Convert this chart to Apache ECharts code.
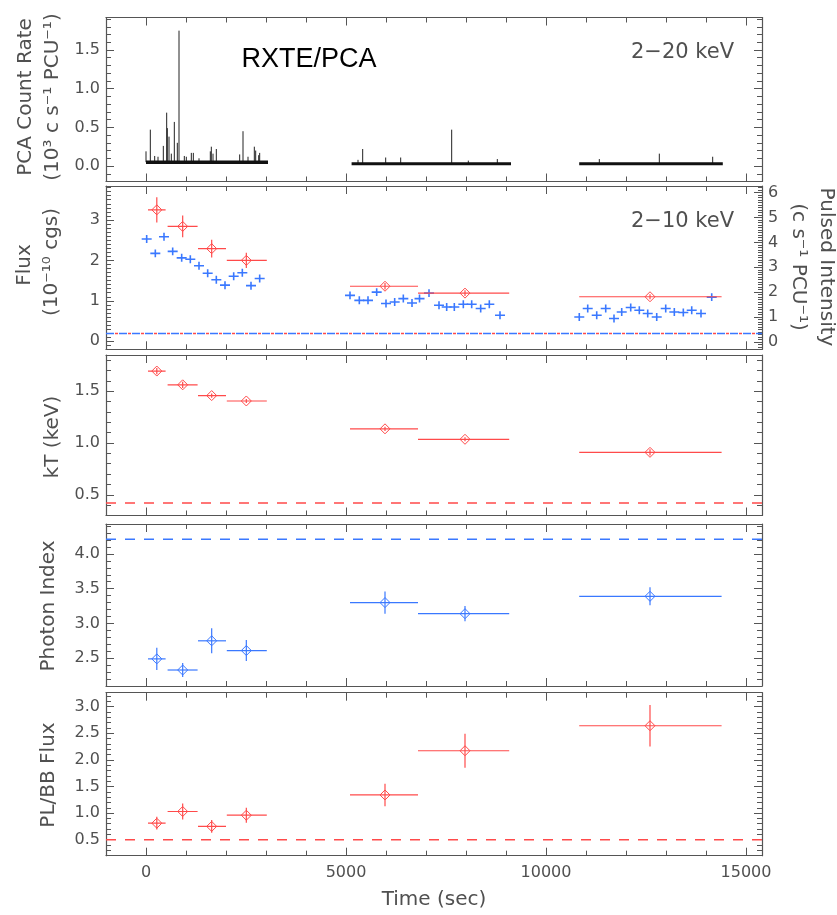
<!DOCTYPE html>
<html>
<head>
<meta charset="utf-8">
<script src="https://cdn.jsdelivr.net/npm/echarts@6/dist/echarts.min.js"></script>
<style>
html, body { margin: 0; padding: 0; background: #fff; }
#main { width: 837px; height: 915px; }
</style>
</head>
<body>
<div id="main"></div>
<script>
// ---- values ----
var timeTicks = [0, 5000, 10000, 15000];

// panel 1: PCA light curve, 2-20 keV (baseline segments [start, end, level] and spikes [time, peak])
var lcSegments = [[0, 3050, 0.05], [5140, 9125, 0.03], [10830, 14420, 0.03]];
var lcSpikes = [
  [0, 0.19], [108, 0.47], [217, 0.13], [300, 0.12], [433, 0.26], [517, 0.69], [533, 0.49],
  [575, 0.38], [633, 0.16], [708, 0.57], [783, 0.30], [825, 1.75], [958, 0.13], [1008, 0.12],
  [1133, 0.17], [1183, 0.17], [1325, 0.10], [1608, 0.19], [1633, 0.25], [1675, 0.16], [1758, 0.22],
  [2342, 0.15], [2425, 0.45], [2550, 0.12], [2708, 0.25], [2742, 0.20], [2817, 0.14], [2842, 0.17],
  [5300, 0.08], [5417, 0.22], [5992, 0.11], [6367, 0.11], [7642, 0.47], [8058, 0.07], [8783, 0.09],
  [11333, 0.09], [12833, 0.16], [14167, 0.12]
];

// panel 2: pulsed intensity (right axis)
var pulsedTime = [
  17, 233, 450, 667, 892, 1108, 1325, 1542, 1758, 1975, 2192, 2408, 2625, 2842,
  5100, 5333, 5550, 5767, 6000, 6217, 6433, 6650, 6838, 7075, 7325, 7517, 7708, 7933, 8142, 8367, 8583, 8850,
  10832, 11043, 11268, 11493, 11700, 11893, 12118, 12333, 12543, 12768, 12993, 13208, 13433, 13643, 13875, 14143
];
var pulsedRate = [
  4.14, 3.56, 4.23, 3.64, 3.38, 3.32, 3.06, 2.76, 2.50, 2.28, 2.64, 2.78, 2.26, 2.55,
  1.87, 1.67, 1.67, 2.00, 1.54, 1.60, 1.74, 1.56, 1.74, 1.96, 1.47, 1.40, 1.40, 1.51, 1.51, 1.34, 1.51, 1.07,
  1.00, 1.34, 1.07, 1.34, 0.94, 1.20, 1.38, 1.27, 1.14, 1.00, 1.34, 1.20, 1.18, 1.27, 1.14, 1.80
];
var pulsedTimeErr = 125;
var pulsedRateErr = 0.16;

// spectral bins shared by panels 2-5
var binTime  = [270, 917, 1642, 2508, 5975, 7975, 12600];
var binStart = [50, 540, 1300, 2020, 5100, 6800, 10830];
var binEnd   = [490, 1290, 2000, 3020, 6800, 9080, 14390];

var flux    = [3.25, 2.84, 2.29, 2.00, 1.36, 1.19, 1.10];
var fluxErr = [0.31, 0.27, 0.22, 0.19, 0.08, 0.07, 0.06];
var kT      = [1.695, 1.562, 1.458, 1.406, 1.137, 1.036, 0.910];
var kTErr   = [0.03, 0.03, 0.02, 0.02, 0.02, 0.02, 0.03];
var photonIndex    = [2.49, 2.33, 2.75, 2.61, 3.30, 3.14, 3.39];
var photonIndexErr = [0.16, 0.10, 0.18, 0.15, 0.16, 0.11, 0.13];
var plbbRatio    = [0.81, 1.03, 0.75, 0.96, 1.34, 2.17, 2.64];
var plbbRatioErr = [0.12, 0.15, 0.12, 0.14, 0.21, 0.32, 0.39];

// reference levels
var bgFluxLevel = 0.19;
var kTLevel = 0.42;
var indexLevel = 4.21;
var ratioLevel = 0.5;

// tick labels
var countTicks  = [0, 0.5, 1.0, 1.5];
var fluxTicks   = [0, 1, 2, 3];
var pulsedTicks = [0, 1, 2, 3, 4, 5, 6];
var kTTicks     = [0.5, 1.0, 1.5];
var indexTicks  = [2.5, 3.0, 3.5, 4.0];
var ratioTicks  = [0.5, 1.0, 1.5, 2.0, 2.5, 3.0];

// ---- layout ----
var RED = '#ff4a4a', BLUE = '#3a78ff', AX = '#555', TXT = '#505050';
var FONT = 'DejaVu Sans';
var X_MIN = -1000, X_MAX = 15400;

// mins are multiples of the 0.1 minor step so interval ticks line up
var panels = [
  { top: 17.5, height: 164, min: -0.2, max: 1.92, ticks: countTicks, dec: 1 },
  { top: 186, height: 163.3, min: -0.2, max: 3.84, ticks: fluxTicks, dec: 0,
    right: { min: -0.3, max: 6.27, ticks: pulsedTicks, dec: 0 } },
  { top: 355, height: 160.5, min: 0.3, max: 1.85, ticks: kTTicks, dec: 1 },
  { top: 524, height: 162, min: 2.1, max: 4.43, ticks: indexTicks, dec: 1 },
  { top: 692.7, height: 163, min: 0.2, max: 3.26, ticks: ratioTicks, dec: 1 }
];

var line = { color: AX, width: 1.2 };
var tickStyle = { color: AX, width: 1 };
var grids = [], xAxes = [], yAxes = [];

// major axis: ticks at the tick-label values
function xMajor(g, pos, labels) {
  return {
    type: 'value', gridIndex: g, position: pos, min: X_MIN, max: X_MAX,
    axisLine: { show: true, onZero: false, lineStyle: line },
    axisTick: { show: true, inside: true, length: 8, customValues: timeTicks, lineStyle: tickStyle },
    axisLabel: { show: labels, customValues: timeTicks, margin: 9, fontSize: 16, color: TXT, fontFamily: FONT,
      formatter: function (v) { return String(Math.round(v)); } },
    splitLine: { show: false }
  };
}
// minor axis: plain interval ticks, no labels
function xMinor(g, pos) {
  return {
    type: 'value', gridIndex: g, position: pos, min: X_MIN, max: X_MAX, interval: 1000,
    axisLine: { show: false, onZero: false },
    axisTick: { show: true, inside: true, length: 5, lineStyle: tickStyle },
    axisLabel: { show: false },
    splitLine: { show: false }
  };
}
function yMajor(g, pos, p, labels) {
  return {
    type: 'value', gridIndex: g, position: pos, min: p.min, max: p.max,
    axisLine: { show: true, onZero: false, lineStyle: line },
    axisTick: { show: true, inside: true, length: 8, customValues: p.ticks, lineStyle: tickStyle },
    axisLabel: { show: labels, customValues: p.ticks, margin: 6, fontSize: 16, color: TXT, fontFamily: FONT,
      formatter: function (v) { return (+v).toFixed(p.dec); } },
    splitLine: { show: false }
  };
}
function yMinor(g, pos, p, len) {
  return {
    type: 'value', gridIndex: g, position: pos, min: p.min, max: p.max, interval: 0.1,
    axisLine: { show: false, onZero: false },
    axisTick: { show: true, inside: true, length: len, lineStyle: tickStyle },
    axisLabel: { show: false },
    splitLine: { show: false }
  };
}

panels.forEach(function (p, g) {
  grids.push({ left: 106, right: 75, top: p.top, height: p.height });
  xAxes.push(xMajor(g, 'bottom', g === 4));
  xAxes.push(xMinor(g, 'bottom'));
  xAxes.push(xMajor(g, 'top', false));
  xAxes.push(xMinor(g, 'top'));
  yAxes.push(yMajor(g, 'left', p, true));
  yAxes.push(yMinor(g, 'left', p, 5));
  var r = p.right || p;
  yAxes.push(yMajor(g, 'right', r, !!p.right));
  yAxes.push(yMinor(g, 'right', r, p.right ? 4 : 5));
});

function errorSeries(g, yIdx, rows, color, lw, diamond) {
  return {
    type: 'custom', xAxisIndex: 4 * g, yAxisIndex: yIdx, clip: true, z: 5, silent: true,
    data: rows,
    renderItem: function (params, api) {
      var c = api.coord([api.value(0), api.value(1)]);
      var l = api.coord([api.value(2), api.value(1)]);
      var r = api.coord([api.value(3), api.value(1)]);
      var lo = api.coord([api.value(0), api.value(4)]);
      var hi = api.coord([api.value(0), api.value(5)]);
      var st = { stroke: color, lineWidth: lw };
      var kids = [
        { type: 'line', shape: { x1: l[0], y1: c[1], x2: r[0], y2: c[1] }, style: st },
        { type: 'line', shape: { x1: c[0], y1: lo[1], x2: c[0], y2: hi[1] }, style: st }
      ];
      if (diamond) {
        var d = 5;
        kids.push({ type: 'polygon',
          shape: { points: [[c[0] - d, c[1]], [c[0], c[1] - d], [c[0] + d, c[1]], [c[0], c[1] + d]] },
          style: { fill: 'none', stroke: color, lineWidth: 1 } });
      }
      return { type: 'group', children: kids };
    }
  };
}
function binRows(vals, errs) {
  return binTime.map(function (t, i) {
    return [t, vals[i], binStart[i], binEnd[i], vals[i] - errs[i], vals[i] + errs[i]];
  });
}
function levelSeries(g, yIdx, v, color, dash, offset) {
  return {
    type: 'line', xAxisIndex: 4 * g, yAxisIndex: yIdx, symbol: 'none', silent: true, z: 3,
    data: [[X_MIN, v], [X_MAX, v]],
    lineStyle: { color: color, width: 1.5, type: dash, dashOffset: offset || 0 }
  };
}
function baseOf(t) {
  for (var i = 0; i < lcSegments.length; i++) {
    if (t >= lcSegments[i][0] - 50 && t <= lcSegments[i][1] + 50) return lcSegments[i][2];
  }
  return 0;
}

var series = [
  // panel 1: light curve
  {
    type: 'custom', xAxisIndex: 0, yAxisIndex: 0, clip: true, silent: true,
    data: lcSpikes.map(function (s) { return [s[0], s[1], baseOf(s[0])]; }),
    renderItem: function (params, api) {
      var a = api.coord([api.value(0), api.value(2)]);
      var b = api.coord([api.value(0), api.value(1)]);
      return { type: 'line', shape: { x1: a[0], y1: a[1], x2: b[0], y2: b[1] }, style: { stroke: '#222', lineWidth: 1 } };
    }
  },
  {
    type: 'custom', xAxisIndex: 0, yAxisIndex: 0, clip: true, silent: true,
    data: lcSegments,
    renderItem: function (params, api) {
      var a = api.coord([api.value(0), api.value(2)]);
      var b = api.coord([api.value(1), api.value(2)]);
      return { type: 'line', shape: { x1: a[0], y1: a[1], x2: b[0], y2: b[1] }, style: { stroke: '#111', lineWidth: params.dataIndex === 0 ? 3.5 : 3 } };
    }
  },
  // panel 2
  levelSeries(1, 4, bgFluxLevel, BLUE, [8, 5], 0),
  levelSeries(1, 4, bgFluxLevel, RED, [3, 10], -9),
  errorSeries(1, 6, pulsedTime.map(function (t, i) {
    return [t, pulsedRate[i], t - pulsedTimeErr, t + pulsedTimeErr, pulsedRate[i] - pulsedRateErr, pulsedRate[i] + pulsedRateErr];
  }), BLUE, 1.6, false),
  errorSeries(1, 4, binRows(flux, fluxErr), RED, 1.2, true),
  // panel 3
  levelSeries(2, 8, kTLevel, RED, [10, 9]),
  errorSeries(2, 8, binRows(kT, kTErr), RED, 1.2, true),
  // panel 4
  levelSeries(3, 12, indexLevel, BLUE, [10, 9]),
  errorSeries(3, 12, binRows(photonIndex, photonIndexErr), BLUE, 1.2, true),
  // panel 5
  levelSeries(4, 16, ratioLevel, RED, [10, 9]),
  errorSeries(4, 16, binRows(plbbRatio, plbbRatioErr), RED, 1.2, true)
];

function label(text, x, y, rot, size, extra) {
  var st = { text: text, fill: TXT, font: size + 'px "' + FONT + '"', align: 'center', verticalAlign: 'middle' };
  for (var k in (extra || {})) st[k] = extra[k];
  return { type: 'text', x: x, y: y, rotation: rot, style: st, silent: true };
}
var UP = Math.PI / 2, DOWN = -Math.PI / 2;

var option = {
  animation: false,
  backgroundColor: '#fff',
  grid: grids,
  xAxis: xAxes,
  yAxis: yAxes,
  series: series,
  graphic: [
    label('PCA Count Rate', 26, 97, UP, 20),
    label('(10³ c s⁻¹ PCU⁻¹)', 53, 97, UP, 20),
    label('Flux', 25, 265, UP, 20),
    label('(10⁻¹⁰ cgs)', 52, 262, UP, 20),
    label('kT (keV)', 53, 437, UP, 20),
    label('Photon Index', 49, 606, UP, 20),
    label('PL/BB Flux', 49, 775, UP, 20),
    label('Pulsed Intensity', 826, 267, DOWN, 20),
    label('(c s⁻¹ PCU⁻¹)', 798, 267, DOWN, 20),
    label('Time (sec)', 434, 900, 0, 20),
    label('2−20 keV', 734, 53, 0, 21, { align: 'right' }),
    label('2−10 keV', 734, 222, 0, 21, { align: 'right' }),
    { type: 'text', x: 309, y: 60, silent: true,
      style: { text: 'RXTE/PCA', fill: '#000', font: '27px "Liberation Sans"', align: 'center', verticalAlign: 'middle' } }
  ]
};

echarts.init(document.getElementById('main')).setOption(option);
</script>
</body>
</html>
